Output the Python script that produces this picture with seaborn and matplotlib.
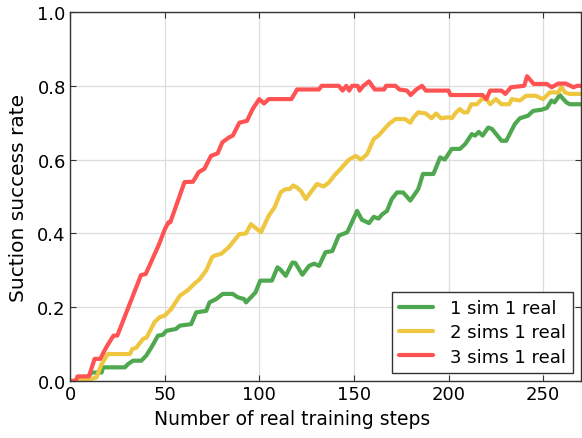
import matplotlib
matplotlib.use("Agg")
import matplotlib.pyplot as plt
import numpy as np
import pandas as pd
import seaborn as sns

labels = ["1 sim 1 real", "2 sims 1 real", "3 sims 1 real"]
colors = ["#4fa84f", "#eec640", "#ff5252"]

# 1 sim 1 real
x_one = [0, 8, 9.6, 11.5, 16.7, 17.5, 29, 30.7, 33.3, 37.7, 40.3, 43, 46.5, 49, 50.9, 56, 58, 64,
         66.7, 72, 73.7, 77.2, 80.7, 86, 88.6, 92, 93, 95.6, 98, 100.5, 106.7, 109.6, 111, 114,
         117.5, 119, 122.8, 126.3, 129, 131.6, 135, 138.6, 142, 146.5, 151.7, 154.2, 158, 160.5,
         163, 165, 167.5, 170, 172.8, 176, 179.8, 184, 186.5, 192, 195.6, 198, 201.7, 206, 208.8,
         212.3, 214, 216, 218, 221, 223, 228, 230.5, 235, 237.7, 242, 244.7, 249, 252, 254.4, 256,
         258.8, 260.5, 262.3, 264, 270]
y_one = [0, 0, 0.012, 0.023, 0.023, 0.037, 0.037, 0.046, 0.055, 0.055, 0.069, 0.091, 0.123, 0.125,
         0.136, 0.141, 0.15, 0.154, 0.186, 0.19, 0.213, 0.222, 0.236, 0.236, 0.227, 0.222, 0.213,
         0.227, 0.24, 0.272, 0.272, 0.308, 0.303, 0.285, 0.321, 0.32, 0.288, 0.312, 0.318, 0.312,
         0.349, 0.352, 0.394, 0.403, 0.461, 0.437, 0.428, 0.445, 0.44, 0.452, 0.461, 0.493, 0.511,
         0.511, 0.489, 0.52, 0.561, 0.561, 0.606, 0.60, 0.629, 0.629, 0.642, 0.669, 0.665, 0.675,
         0.665, 0.687, 0.683, 0.651, 0.651, 0.696, 0.712, 0.719, 0.732, 0.735, 0.74, 0.76, 0.755,
         0.775, 0.765, 0.755, 0.75, 0.75]

# 2 sims 1 real
x_two = [0, 6, 11, 14, 16.7, 20, 31.6, 33, 35, 38.6, 40.5, 44.7, 47.4, 50, 53.5, 58, 62, 66, 68.4,
         72, 75, 76.5, 80, 84, 86, 89.5, 93, 95.6, 98, 100.9, 105, 108, 111.4, 114, 116, 118, 120,
         122, 124.6, 127, 130.5, 134, 136.8, 139.5, 143, 147.4, 151, 153.7, 157, 160.5, 163, 168.4,
         172, 177, 179.8, 181.6, 184, 188, 191, 193.5, 196, 200, 201.7, 204, 206, 208, 210, 212,
         215, 217.5, 220, 222, 225, 228, 232, 233.5, 237.7, 241, 246, 250, 253.5, 258, 259.6,
         261.5, 264, 270]
y_two = [0, 0.003, 0.005, 0.01, 0.046, 0.073, 0.073, 0.087, 0.09, 0.114, 0.118, 0.16, 0.173, 0.177,
         0.195, 0.231, 0.245, 0.265, 0.275, 0.30, 0.335, 0.34, 0.345, 0.363, 0.376, 0.398, 0.40,
         0.425, 0.415, 0.403, 0.448, 0.47, 0.512, 0.52, 0.52, 0.53, 0.524, 0.515, 0.493, 0.51,
         0.534, 0.527, 0.538, 0.556, 0.575, 0.60, 0.61, 0.60, 0.615, 0.656, 0.665, 0.696, 0.71,
         0.71, 0.70, 0.715, 0.728, 0.725, 0.712, 0.725, 0.712, 0.715, 0.712, 0.728, 0.737, 0.728,
         0.728, 0.75, 0.75, 0.764, 0.764, 0.75, 0.764, 0.75, 0.75, 0.764, 0.76, 0.773, 0.773,
         0.764, 0.782, 0.782, 0.797, 0.782, 0.778, 0.778]

# 3 sims 1 real
x_three = [0, 3, 4, 10, 13, 16, 19, 23, 25, 37.5, 40, 47, 50, 52, 53, 60.5, 65, 68, 71, 74.5, 78,
           80.5, 84, 86, 89.5, 93.5, 96.5, 100, 102.5, 105, 117, 120, 131.5, 133, 142, 144, 146,
           147.5, 149, 152, 153, 155, 158, 161, 166, 167, 172, 174, 178, 180, 183, 186, 188, 200,
           201, 218, 220, 222, 228, 230, 233, 240, 241.5, 245, 252, 254.5, 258, 262, 266, 268, 270]
y_three = [0, 0, 0.0125, 0.0125, 0.06, 0.06, 0.09, 0.123, 0.123, 0.287, 0.29, 0.37, 0.41, 0.43,
           0.43, 0.539, 0.54, 0.566, 0.575, 0.61, 0.617, 0.647, 0.66, 0.665, 0.70, 0.705, 0.737,
           0.764, 0.752, 0.764, 0.764, 0.79, 0.79, 0.80, 0.80, 0.787, 0.80, 0.787, 0.80, 0.80,
           0.787, 0.80, 0.812, 0.79, 0.79, 0.80, 0.80, 0.79, 0.787, 0.775, 0.79, 0.80, 0.787,
           0.787, 0.775, 0.775, 0.764, 0.787, 0.787, 0.778, 0.796, 0.80, 0.826, 0.805, 0.805,
           0.796, 0.806, 0.806, 0.796, 0.80, 0.80]

frames = []
for name, xs, ys in zip(labels, [x_one, x_two, x_three], [y_one, y_two, y_three]):
    frames.append(pd.DataFrame({"steps": xs, "rate": ys, "setup": name}))
df = pd.concat(frames, ignore_index=True)

sns.set_style("whitegrid", {
    "axes.edgecolor": "#333333",
    "axes.labelcolor": "black",
    "text.color": "black",
    "grid.color": "#dddddd",
    "xtick.direction": "in",
    "ytick.direction": "in",
    "xtick.top": True,
    "ytick.right": True,
    "xtick.bottom": True,
    "ytick.left": True,
})
plt.rcParams['font.family'] = ['DejaVu Sans']
plt.rcParams['text.color'] = 'black'
plt.rcParams['axes.labelcolor'] = 'black'

fig = plt.figure(figsize=(5.82, 4.39), dpi=100)
ax = fig.add_axes([70 / 582, 57 / 439, 511 / 582, 369 / 439])

sns.lineplot(data=df, x="steps", y="rate", hue="setup", palette=dict(zip(labels, colors)),
             estimator=None, sort=False, linewidth=3.0, ax=ax)

ax.set_xlim(0, 270)
ax.set_ylim(0, 1.0)
ax.set_xticks([0, 50, 100, 150, 200, 250])
ax.set_yticks(np.arange(0, 1.01, 0.2))
ax.set_yticklabels(["%.1f" % v for v in np.arange(0, 1.01, 0.2)])
ax.tick_params(axis="both", which="both", length=4, width=0.8, colors="#333333",
               labelcolor="black", labelsize=13, pad=3)
for s in ax.spines.values():
    s.set_linewidth(1.0)
ax.grid(True, color="#dddddd", linewidth=0.9)

ax.set_xlabel("Number of real training steps", fontsize=13.5, labelpad=5, color="black")
ax.xaxis.set_label_coords(0.435, -0.075)
ax.set_ylabel("Suction success rate", fontsize=14.5, labelpad=7, color="black")

handles, lbls = ax.get_legend_handles_labels()
leg = ax.legend(handles, lbls, loc="lower right", fontsize=13, fancybox=False,
                framealpha=1, edgecolor="#333333", handlelength=1.9, borderaxespad=0.45,
                labelspacing=0.35, handletextpad=0.9, labelcolor="black")
leg.get_frame().set_linewidth(1.0)
for h in leg.get_lines():
    h.set_linewidth(3.0)

fig.savefig("out.png", dpi=100)
